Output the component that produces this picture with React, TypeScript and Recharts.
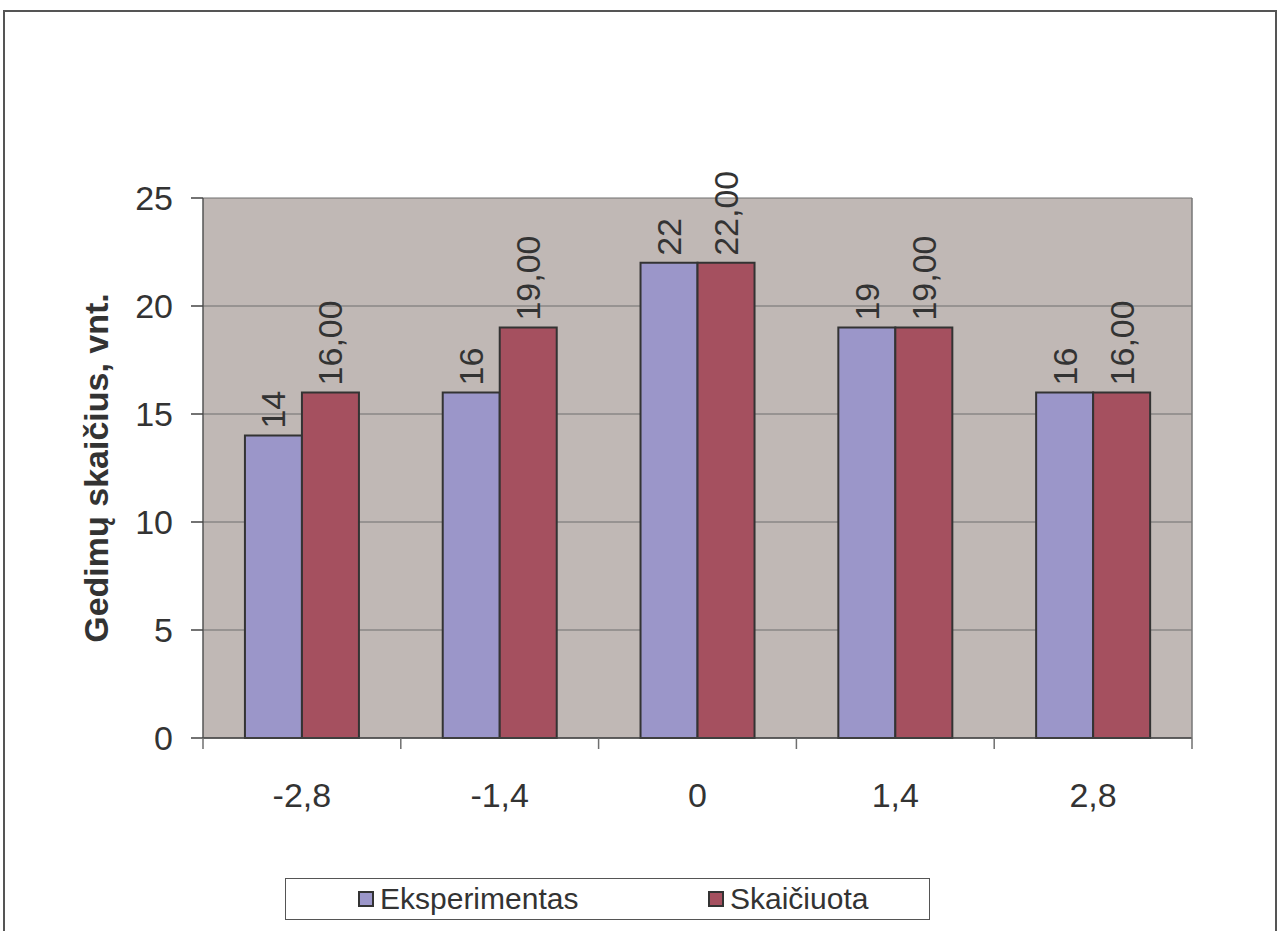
import { BarChart, Bar, XAxis, YAxis, CartesianGrid, LabelList } from "recharts"

const categories = ["-2,8", "-1,4", "0", "1,4", "2,8"]
const eksperimentas = [14, 16, 22, 19, 16]
const skaiciuota = [16, 19, 22, 19, 16]
const yTicks = [0, 5, 10, 15, 20, 25]
const seriesNames = ["Eksperimentas", "Skaičiuota"]

const data = categories.map((c, i) => ({
  cat: c,
  eksp: eksperimentas[i],
  skai: skaiciuota[i],
}))

const FONT = "'Liberation Sans', Arial, sans-serif"
const TEXT = "#333"
const BLUE = "#9B96C9"
const RED = "#A5505F"
const X_TICK_MARGIN = 45

const vLabel = (fmt: (v: number) => string) => (props: any) => {
  const { x, y, width, value } = props
  const cx = Number(x) + Number(width) / 2
  const ty = Number(y) - 7
  return (
    <text
      x={cx}
      y={ty}
      transform={`rotate(-90 ${cx} ${ty})`}
      textAnchor="start"
      dominantBaseline="central"
      fontSize={34}
      fontFamily={FONT}
      fill={TEXT}
    >
      {fmt(Number(value))}
    </text>
  )
}

const yLabel = (props: any) => {
  const { viewBox } = props
  const cx = viewBox.x + 96
  const cy = viewBox.y + viewBox.height / 2
  return (
    <text
      x={cx}
      y={cy}
      transform={`rotate(-90 ${cx} ${cy})`}
      textAnchor="middle"
      dominantBaseline="central"
      fontSize={34}
      fontWeight={700}
      fontFamily={FONT}
      fill={TEXT}
    >
      Gedimų skaičius, vnt.
    </text>
  )
}

// label at the band centre, tick marks on the band edges (Excel style)
const XTick = (props: any) => {
  const { x, y, payload, index, visibleTicksCount } = props
  const half = payload.offset || 0
  const axisY = y - X_TICK_MARGIN
  const marks = [x - half]
  if (index === visibleTicksCount - 1) marks.push(x + half)
  return (
    <g>
      {marks.map((mx, i) => (
        <line key={i} x1={mx} x2={mx} y1={axisY} y2={axisY + 11} stroke="#6f6f6f" strokeWidth={1.5} />
      ))}
      <text x={x} y={y} dy="0.71em" textAnchor="middle" fontSize={34} fontFamily={FONT} fill={TEXT}>
        {payload.value}
      </text>
    </g>
  )
}

export default function App() {
  return (
    <div
      style={{
        position: "absolute",
        left: 0,
        top: 0,
        width: 1282,
        height: 931,
        background: "#fff",
        overflow: "hidden",
        fontFamily: FONT,
      }}
    >
      <div
        style={{
          position: "absolute",
          left: 3,
          top: 10,
          width: 1270,
          height: 960,
          border: "2px solid #555",
        }}
      />
      <div style={{ position: "absolute", left: 0, top: 0 }}>
        <BarChart
          width={1282}
          height={931}
          data={data}
          margin={{ top: 198, right: 89, left: 0, bottom: 133 }}
          barCategoryGap="21.2%"
          barGap={0}
        >
          <CartesianGrid fill="#C0B8B5" vertical={false} stroke="#6f6f6f" strokeWidth={1} />
          <XAxis
            dataKey="cat"
            tickLine={false}
            tickSize={0}
            tickMargin={X_TICK_MARGIN}
            axisLine={{ stroke: "#444", strokeWidth: 1.5 }}
            tick={<XTick />}
            height={60}
            interval={0}
          />
          <YAxis
            domain={[0, 25]}
            ticks={yTicks}
            width={203}
            tickSize={12}
            tickMargin={18}
            axisLine={{ stroke: "#555", strokeWidth: 1.5 }}
            tickLine={{ stroke: "#444", strokeWidth: 1.5 }}
            tick={{ fontSize: 34, fill: TEXT, fontFamily: FONT }}
            label={yLabel}
          />
          <YAxis
            yAxisId="r"
            orientation="right"
            domain={[0, 25]}
            width={1}
            tick={false}
            tickLine={false}
            axisLine={{ stroke: "#777", strokeWidth: 1.5 }}
          />
          <Bar dataKey="eksp" name={seriesNames[0]} fill={BLUE} stroke="#333" strokeWidth={2} isAnimationActive={false}>
            <LabelList dataKey="eksp" content={vLabel((v) => String(v))} />
          </Bar>
          <Bar dataKey="skai" name={seriesNames[1]} fill={RED} stroke="#333" strokeWidth={2} isAnimationActive={false}>
            <LabelList dataKey="skai" content={vLabel((v) => v.toFixed(2).replace(".", ","))} />
          </Bar>
        </BarChart>
      </div>
      <div
        style={{
          position: "absolute",
          left: 285,
          top: 878,
          width: 645,
          height: 42,
          border: "1.5px solid #555",
          background: "#fff",
          display: "flex",
          alignItems: "center",
          paddingLeft: 72,
          boxSizing: "border-box",
          fontSize: 30,
          color: TEXT,
        }}
      >
        {seriesNames.map((n, i) => (
          <div key={n} style={{ display: "flex", alignItems: "center", width: i === 0 ? 350 : "auto" }}>
            <div
              style={{
                width: 12,
                height: 12,
                background: i === 0 ? BLUE : RED,
                border: "2px solid #333",
                marginRight: 6,
              }}
            />
            <span>{n}</span>
          </div>
        ))}
      </div>
    </div>
  )
}
